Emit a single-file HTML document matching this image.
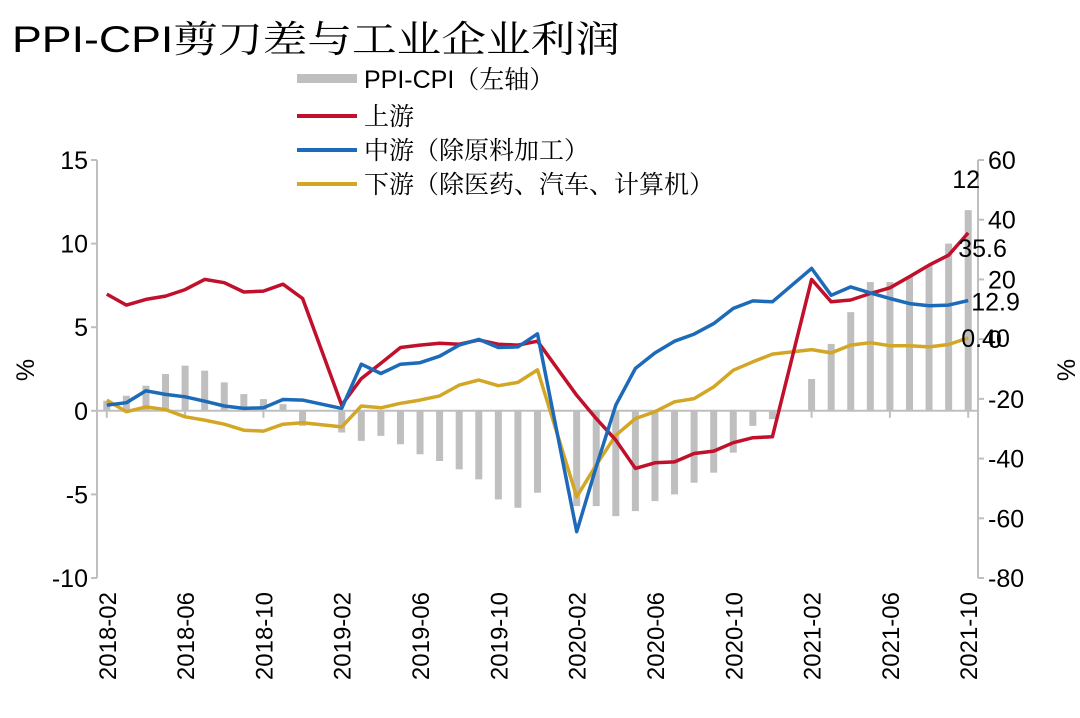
<!DOCTYPE html>
<html><head><meta charset="utf-8">
<style>
html,body{margin:0;padding:0;background:#fff;}
svg{display:block;font-family:"Liberation Sans","Noto Serif CJK SC",sans-serif;}
</style></head>
<body>
<svg id="chart" width="1080" height="718" viewBox="0 0 1080 718" xmlns="http://www.w3.org/2000/svg">
<text x="12" y="52" font-size="37" fill="#000" textLength="608" lengthAdjust="spacingAndGlyphs">PPI-CPI<tspan font-family="'Noto Serif CJK SC',serif">剪刀差与工业企业利润</tspan></text>
<g font-size="25" fill="#000">
  <rect x="297" y="74" width="60" height="9" fill="#bfbfbf"/>
  <text x="364" y="88">PPI-CPI<tspan font-family="'Noto Serif CJK SC',serif">（左轴）</tspan></text>
  <line x1="297" y1="116" x2="357" y2="116" stroke="#c0102c" stroke-width="4"/>
  <text x="364" y="125" font-family="'Noto Serif CJK SC',serif">上游</text>
  <line x1="297" y1="150" x2="357" y2="150" stroke="#1d6ab8" stroke-width="4"/>
  <text x="364" y="159" font-family="'Noto Serif CJK SC',serif">中游（除原料加工）</text>
  <line x1="297" y1="184" x2="357" y2="184" stroke="#d3a626" stroke-width="4"/>
  <text x="364" y="193" font-family="'Noto Serif CJK SC',serif">下游（除医药、汽车、计算机）</text>
</g>
<g id="plot"></g>
</svg>
<script>
const categories = ["2018-02","2018-03","2018-04","2018-05","2018-06","2018-07","2018-08","2018-09","2018-10","2018-11","2018-12","2019-01","2019-02","2019-03","2019-04","2019-05","2019-06","2019-07","2019-08","2019-09","2019-10","2019-11","2019-12","2020-01","2020-02","2020-03","2020-04","2020-05","2020-06","2020-07","2020-08","2020-09","2020-10","2020-11","2020-12","2021-01","2021-02","2021-03","2021-04","2021-05","2021-06","2021-07","2021-08","2021-09","2021-10"];
const ppiCpi = [0.6,0.9,1.5,2.2,2.7,2.4,1.7,1.0,0.7,0.4,-0.9,null,-1.3,-1.8,-1.5,-2.0,-2.6,-3.0,-3.5,-4.1,-5.3,-5.8,-4.9,null,-5.7,-5.7,-6.3,-6.0,-5.4,-5.0,-4.3,-3.7,-2.5,-0.9,-0.5,null,1.9,4.0,5.9,7.7,7.7,8.0,8.7,10.0,12.0];
const upstream = [15.1,11.4,13.3,14.4,16.6,20.0,18.9,15.8,16.1,18.4,13.6,null,-22.1,-13.2,-8.1,-2.8,-2.0,-1.4,-1.7,-0.3,-1.7,-2.0,-0.7,null,-18.8,-26.6,-33.8,-43.3,-41.4,-41.1,-38.3,-37.5,-34.7,-33.0,-32.7,null,20.0,12.5,13.1,15.3,17.2,20.9,24.8,28.1,35.6];
const midstream = [-22.1,-21.3,-17.3,-18.5,-19.3,-20.8,-22.4,-23.2,-23.0,-20.2,-20.4,null,-23.2,-8.4,-11.5,-8.4,-7.9,-5.7,-2.0,-0.1,-2.8,-2.6,1.8,null,-64.5,-42.8,-22.1,-9.8,-4.6,-0.7,1.7,5.2,10.3,12.8,12.5,null,23.7,14.7,17.5,15.5,13.6,11.9,11.2,11.4,12.9];
const downstream = [-20.4,-24.3,-22.7,-23.6,-26.0,-27.1,-28.5,-30.5,-30.8,-28.5,-28.0,null,-29.4,-22.4,-23.0,-21.5,-20.4,-19.0,-15.4,-13.7,-15.6,-14.5,-10.3,null,-52.8,-42.2,-32.2,-26.6,-24.3,-21.0,-19.9,-16.0,-10.4,-7.6,-5.0,null,-3.5,-4.6,-2.0,-1.2,-2.2,-2.2,-2.6,-1.8,0.4];
const leftTicks = [-10,-5,0,5,10,15];
const rightTicks = [-80,-60,-40,-20,0,20,40,60];
const endLabels = ["12","35.6","12.9","0.40"];

const NS="http://www.w3.org/2000/svg";
const plot=document.getElementById('plot');
const X0=97,X1=978,Y0=160,Y1=578;
const n=categories.length;
const step=(X1-X0)/n;
function xPos(i){return X0+step*(i+0.5);}
function yL(v){return Y1-(v-(-10))/(25)*(Y1-Y0);}
function yR(v){return Y1-(v-(-80))/(140)*(Y1-Y0);}
function mk(tag,attrs,parent){const e=document.createElementNS(NS,tag);for(const k in attrs)e.setAttribute(k,attrs[k]);(parent||plot).appendChild(e);return e;}

// axes
let e=mk('line',{x1:X0,y1:Y0,x2:X0,y2:Y1,stroke:'#bfbfbf','stroke-width':2});


e=mk('line',{x1:X1,y1:Y0,x2:X1,y2:Y1,stroke:'#bfbfbf','stroke-width':2});


e=mk('line',{x1:X0,y1:yL(0),x2:X1,y2:yL(0),stroke:'#bfbfbf','stroke-width':2});



leftTicks.forEach(t=>{
  const y=yL(t);
  let l=mk('line',{x1:X0-6,y1:y,x2:X0,y2:y,stroke:'#bfbfbf','stroke-width':2});
  
  
  let tx=mk('text',{x:88,y:y+9,'text-anchor':'end','font-size':25,fill:'#000'});
  tx.textContent=t;
  
  
});
rightTicks.forEach(t=>{
  const y=yR(t);
  let l=mk('line',{x1:X1,y1:y,x2:X1+6,y2:y,stroke:'#bfbfbf','stroke-width':2});
  
  
  let tx=mk('text',{x:988,y:y+9,'font-size':25,fill:'#000'});
  tx.textContent=t;
  
  
});
e=mk('text',{x:0,y:0,'font-size':25,transform:'translate(34,370) rotate(-90)','text-anchor':'middle'});
e.textContent='%';


e=mk('text',{x:0,y:0,'font-size':25,transform:'translate(1075,370) rotate(-90)','text-anchor':'middle'});
e.textContent='%';



// x labels
categories.forEach((c,i)=>{
  if(i%4!==0)return;
  const x=xPos(i);
  let l=mk('line',{x1:x,y1:yL(0),x2:x,y2:yL(0)+7,stroke:'#bfbfbf','stroke-width':2});
  
  
  let tx=mk('text',{x:0,y:0,'font-size':24,'text-anchor':'end',transform:`translate(${x+9},592) rotate(-90)`});
  tx.textContent=c;
  
  
});

// bars
ppiCpi.forEach((v,i)=>{
  if(v===null)return;
  const y0=yL(0),y=yL(v);
  let r=mk('rect',{x:xPos(i)-3.5,y:Math.min(y,y0),width:7,height:Math.abs(y-y0),fill:'#bfbfbf'});
  
  
});

function line(arr,color,name){
  const pts=[];
  arr.forEach((v,i)=>{if(v!==null)pts.push(xPos(i).toFixed(1)+','+yR(v).toFixed(1));});
  let p=mk('polyline',{points:pts.join(' '),fill:'none',stroke:color,'stroke-width':3.5,'stroke-linejoin':'round'});
  
  
}
line(downstream,'#d3a626','downstream-line');
line(upstream,'#c0102c','upstream-line');
line(midstream,'#1d6ab8','midstream-line');

// end labels
const li=n-1;
const labPos=[[xPos(li)-16,yL(ppiCpi[li])-22],[xPos(li)-10,yR(upstream[li])+24],[xPos(li)+3,yR(midstream[li])+10],[xPos(li)-7,yR(downstream[li])+9]];
const labNames=['label-ppi-cpi-last','label-upstream-last','label-midstream-last','label-downstream-last'];
endLabels.forEach((t,k)=>{
  let tx=mk('text',{x:labPos[k][0],y:labPos[k][1],'font-size':25,fill:'#000'});
  tx.textContent=t;
  
  
});
</script>
</body></html>
